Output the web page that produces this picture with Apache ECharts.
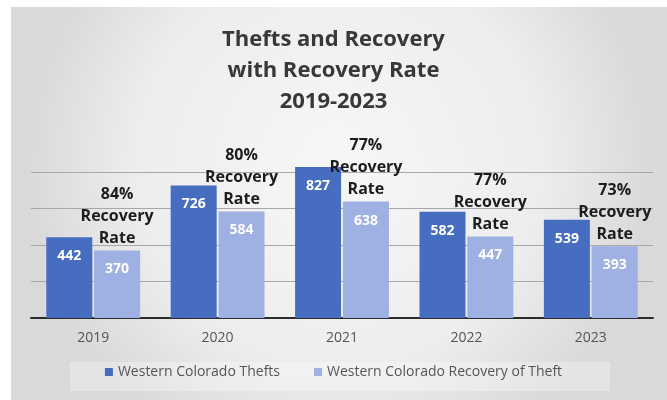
<!DOCTYPE html>
<html>
<head>
<meta charset="utf-8">
<script src="https://cdn.jsdelivr.net/npm/echarts@6/dist/echarts.min.js"></script>
<style>
  html, body { margin: 0; padding: 0; background: #fff; }
  #chart { width: 667px; height: 400px; }
</style>
</head>
<body>
<div id="chart"></div>
<script>
    // data
    var years = ['2019', '2020', '2021', '2022', '2023'];
    var thefts = [442, 726, 827, 582, 539];
    var recovered = [370, 584, 638, 447, 393];
    var rates = [84, 80, 77, 77, 73];

    var chart = echarts.init(document.getElementById('chart'));

    var option = {
        backgroundColor: '#fff',
        animation: false,
        textStyle: { fontFamily: 'Open Sans' },
        graphic: [{
            type: 'rect',
            z: -10,
            shape: { x: 11, y: 7, width: 656, height: 393 },
            style: {
                fill: {
                    type: 'radial', x: 0.5, y: 0.4, r: 0.8,
                    colorStops: [
                        { offset: 0, color: '#f7f7f7' },
                        { offset: 0.65, color: '#ededed' },
                        { offset: 1, color: '#d9d9d9' }
                    ]
                }
            }
        }, {
            type: 'rect',
            z: -9,
            shape: { x: 70, y: 362, width: 540, height: 29 },
            style: { fill: 'rgba(255,255,255,0.3)' }
        }],
        title: {
            text: 'Thefts and Recovery\nwith Recovery Rate\n2019-2023',
            left: 'center',
            top: 19,
            textStyle: {
                fontSize: 22,
                fontWeight: 'bold',
                color: '#383838',
                lineHeight: 31
            }
        },
        legend: {
            bottom: 16,
            left: 'center',
            icon: 'rect',
            itemWidth: 8,
            itemHeight: 8,
            itemGap: 34,
            textStyle: { fontSize: 14, color: '#555' },
            data: ['Western Colorado Thefts', 'Western Colorado Recovery of Theft']
        },
        grid: { left: 31, right: 14, top: 135.5, bottom: 82 },
        xAxis: {
            type: 'category',
            data: years,
            axisTick: { show: false },
            axisLine: { lineStyle: { color: '#2b2b2b', width: 2 } },
            axisLabel: { fontSize: 14, color: '#555', margin: 13 }
        },
        yAxis: {
            type: 'value',
            min: 0,
            max: 1000,
            interval: 200,
            axisLabel: { show: false },
            axisLine: { show: false },
            splitLine: {
                lineStyle: {
                    color: ['#a8a8a8', '#a8a8a8', '#a8a8a8', '#a8a8a8', '#a8a8a8', 'rgba(0,0,0,0)'],
                    width: 1
                }
            }
        },
        series: [{
            name: 'Western Colorado Thefts',
            type: 'bar',
            data: thefts,
            barWidth: 46,
            barGap: '4%',
            itemStyle: { color: '#466dbf' },
            label: {
                show: true,
                position: 'insideTop',
                distance: 12,
                color: '#fff',
                fontSize: 14,
                fontWeight: 'bold'
            }
        }, {
            name: 'Western Colorado Recovery of Theft',
            type: 'bar',
            stack: 'rec',
            data: recovered,
            barWidth: 46,
            itemStyle: { color: '#9fb0e2' },
            label: {
                show: true,
                position: 'insideTop',
                distance: 12,
                color: '#fff',
                fontSize: 14,
                fontWeight: 'bold'
            }
        }, {
            // zero height bar on top of the recovery bar, only carries the rate text
            name: 'rate',
            type: 'bar',
            stack: 'rec',
            data: rates.map(function () { return 0; }),
            barWidth: 46,
            itemStyle: { color: 'rgba(0,0,0,0)' },
            label: {
                show: true,
                position: 'top',
                distance: 1,
                formatter: function (p) {
                    return rates[p.dataIndex] + '%\nRecovery\nRate';
                },
                color: '#1c1c1c',
                fontSize: 16,
                fontWeight: 'bold',
                lineHeight: 22
            }
        }]
    };

    chart.setOption(option);
</script>
</body>
</html>
